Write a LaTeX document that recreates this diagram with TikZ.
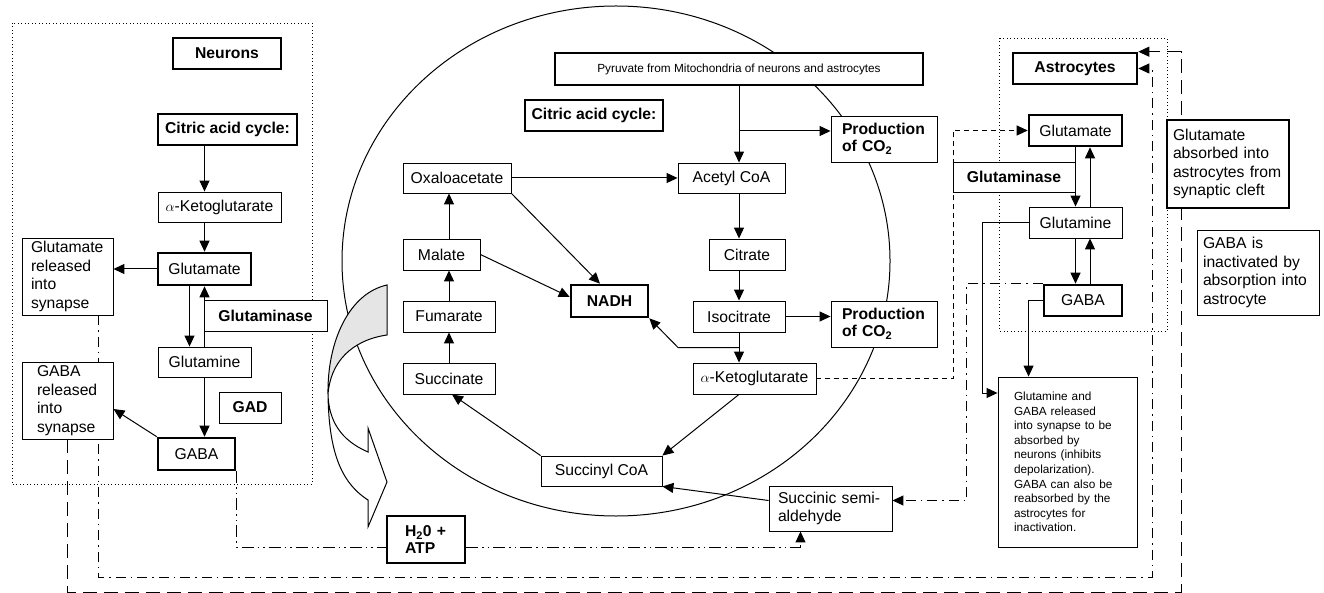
\documentclass[tikz,border=0pt]{standalone}
\usepackage{fontspec}
\setmainfont{Liberation Sans}
\usetikzlibrary{arrows.meta,calc}
\pgfdeclarelayer{background}
\pgfsetlayers{background,main}

\tikzset{
  box/.style={draw, fill=white, line width=0.9pt, inner sep=0pt, align=center,
    font=\fontsize{15.7}{18.5}\selectfont},
  heavy/.style={box, line width=2.6pt},
  lbl/.style={font=\fontsize{15.7}{17}\selectfont\bfseries},
  small/.style={font=\fontsize{11.8}{14.6}\selectfont},
  textbox/.style={align=left},
  link/.style={line width=1pt},
  tip/.style={-{Triangle[length=11pt,width=10pt]}},
  arr/.style={link, tip},
  shortdash/.style={link, dash pattern=on 5pt off 4pt},
  longdash/.style={link, dash pattern=on 14pt off 7pt},
  dashdot/.style={link, dash pattern=on 10pt off 5pt on 1.5pt off 5pt},
  dashdotdot/.style={link, dash pattern=on 12pt off 4pt on 1.5pt off 4pt on 1.5pt off 4pt},
  region/.style={line width=0.9pt, dash pattern=on 0.9pt off 2.6pt},
}

\begin{document}
\begin{tikzpicture}[x=1pt,y=-1pt]
		%%%%% START %%%%%
		\useasboundingbox (0,0) rectangle (1324,593);

		% neurons
		\node[heavy, lbl, minimum width=108, minimum height=31] (neurons) at (227,53.5) {Neurons};
		\node[heavy, lbl, minimum width=139, minimum height=31] (ncac) at (227.5,129.5) {Citric acid cycle:};
		\node[box, minimum width=123, minimum height=30] (nakg) at (219.5,207) {$\alpha$-Ketoglutarate};
		\node[heavy, minimum width=93, minimum height=32] (nglu) at (204.5,269) {Glutamate};
		\node[box, textbox, text width=73, inner xsep=9, minimum height=77] (nglurel) at (67.5,276.5) {Glutamate\\released\\into\\synapse};
		\node[box, lbl, minimum width=123, minimum height=31] (nglnase) at (265.5,315.5) {Glutaminase};
		\node[box, minimum width=93, minimum height=30] (ngln) at (204.5,362) {Glutamine};
		\node[box, lbl, minimum width=62, minimum height=31] (ngad) at (250,407.5) {GAD};
		\node[heavy, minimum width=77, minimum height=32] (ngaba) at (196.5,454) {GABA};
		\node[box, textbox, text width=61, inner xsep=15, minimum height=77] (ngabarel) at (67.5,400.5) {GABA\\released\\into\\synapse};

		% mitochondrion
		\node[heavy, small, minimum width=368, minimum height=32] (pyr) at (739,69) {Pyruvate from Mitochondria of neurons and astrocytes};
		\node[heavy, lbl, minimum width=138, minimum height=31] (mcac) at (594,115.5) {Citric acid cycle:};
		\node[box, lbl, textbox, text width=84, inner xsep=11, minimum height=46] (co2a) at (884,139) {Production\\of CO\textsubscript{2}};
		\node[box, minimum width=107, minimum height=30] (acetyl) at (731.5,178) {Acetyl CoA};
		\node[box, minimum width=108, minimum height=30] (oxal) at (457,178) {Oxaloacetate};
		\node[box, minimum width=76, minimum height=31] (citrate) at (747,254.5) {Citrate};
		\node[box, minimum width=77, minimum height=31] (malate) at (441.5,254.5) {Malate};
		\node[heavy, lbl, minimum width=77, minimum height=32] (nadh) at (609.5,301) {NADH};
		\node[box, minimum width=92, minimum height=31] (iso) at (739,316.5) {Isocitrate};
		\node[box, lbl, textbox, text width=84, inner xsep=11, minimum height=46] (co2b) at (884,324) {Production\\of CO\textsubscript{2}};
		\node[box, minimum width=92, minimum height=31] (fumarate) at (449,316.5) {Fumarate};
		\node[box, minimum width=92, minimum height=31] (succinate) at (449,378.5) {Succinate};
		\node[box, minimum width=123, minimum height=31] (mkg) at (754.5,378.5) {$\alpha$-Ketoglutarate};
		\node[box, minimum width=121, minimum height=30] (succoa) at (601.5,471) {Succinyl CoA};
		\node[box, textbox, text width=105, inner xsep=9, minimum height=45] (ssa) at (830.5,508.5) {Succinic semi-\\aldehyde};
		\node[heavy, lbl, textbox, text width=42, inner xsep=18, minimum height=47] (h2o) at (426,539.5) {H\textsubscript{2}0 +\\ATP};

		% astrocytes
		\node[heavy, lbl, minimum width=124, minimum height=31] (astro) at (1075,68.5) {Astrocytes};
		\node[heavy, minimum width=93, minimum height=31] (aglu) at (1075.5,130.5) {Glutamate};
		\node[box, lbl, minimum width=122, minimum height=30] (aglnase) at (1014,177) {Glutaminase};
		\node[box, minimum width=93, minimum height=31] (agln) at (1075.5,222.5) {Glutamine};
		\node[heavy, minimum width=78, minimum height=31] (agaba) at (1083,300.5) {GABA};
		\node[box, small, textbox, text width=107, inner xsep=16, minimum height=170] (release) at (1067.5,462) {Glutamine and\\GABA released\\into synapse to be\\absorbed by\\neurons (inhibits\\depolarization).\\GABA can also be\\reabsorbed by the\\astrocytes for\\inactivation.};
		\node[heavy, textbox, text width=110, inner xsep=6, minimum height=88] (absorbed) at (1228,164) {Glutamate\\absorbed into\\astrocytes from\\synaptic cleft};
		\node[box, textbox, text width=110, inner xsep=6, minimum height=85] (inact) at (1258,272.5) {GABA is\\inactivated by\\absorption into\\astrocyte};

		\begin{pgfonlayer}{background}
		\draw[region] (12,23) rectangle (312,484);
		\draw[region] (999,38) rectangle (1167,331);

		\draw[line width=1pt] (616,261) ellipse (274 and 255);

		% twisted arrow
		\filldraw[fill=gray!20, line width=1pt] (387,285) .. controls (350,293) and (327,340) .. (328,395)
			.. controls (330,362) and (352,340) .. (387,335) -- cycle;
		\filldraw[fill=white, line width=1pt] (328,395) .. controls (329,450) and (340,482) .. (368,500)
			-- (368,527) -- (387,482) -- (368,428) -- (368,452) .. controls (340,440) and (329,420) .. (328,395) -- cycle;

		% neuron links
		\draw[arr] (ncac.south -| nglu) -- (nakg.north -| nglu);
		\draw[arr] (nakg.south -| nglu) -- (nglu.north);
		\draw[arr] (nglu.west) -- (nglu.west -| nglurel.east);
		\draw[arr] ([xshift=-15]nglu.south) -- ([xshift=-15]ngln.north);
		\draw[arr] (ngln.north) -- (nglu.south);
		\draw[arr] (ngln.south) -- (ngln.south |- ngaba.north);
		\draw[arr] (ngaba.north west) -- ([yshift=-8.5]ngabarel.east);

		% citric acid cycle
		\coordinate (co2in) at ([yshift=8]co2a.west);
		\draw[arr] (pyr.south) -- (pyr.south |- acetyl.north);
		\draw[arr] (pyr.south |- co2in) -- (co2in);
		\draw[arr] (oxal.east) -- (acetyl.west);
		\draw[arr] (acetyl.south -| pyr) -- (citrate.north -| pyr);
		\draw[arr] (citrate.south -| pyr) -- (iso.north);
		\draw[arr] (iso.south) -- (iso.south |- mkg.north);
		\draw[arr] (iso.east) -- (iso.east -| co2b.west);
		\coordinate (nj) at ($(iso.south)!0.5!(iso.south |- mkg.north)$);
		\draw[arr] (nj) -- ++(-61,0) -- (nadh.south east);
		\draw[arr] (oxal.south east) -- ([xshift=-9.5]nadh.north);
		\draw[arr] (malate.east) -- ([yshift=4]nadh.west);
		\draw[arr] (mkg.south -| pyr) -- (succoa.north east);
		\draw[arr] (succoa.north west) -- ([xshift=3]succinate.south);
		\draw[arr] (succinate.north) -- (fumarate.south);
		\draw[arr] (fumarate.north) -- (fumarate.north |- malate.south);
		\draw[arr] (fumarate.north |- malate.north) -- (fumarate.north |- oxal.south);
		\draw[arr] ([yshift=8]ssa.west) -- (succoa.south east);

		% astrocyte links
		\draw[arr] (aglu.south) -- (agln.north);
		\draw[arr] ([xshift=14.5]agln.north) -- ([xshift=14.5]aglu.south);
		\draw[arr] (agln.south) -- (agln.south |- agaba.north);
		\draw[arr] ([xshift=7]agaba.north) -- ([xshift=14.5]agln.south);
		\draw[arr] (agln.west) -- ++(-46,0) |- ([yshift=69]release.west);
		\draw[arr] (agaba.west) -- (agaba.west -| agln.west) -- (agln.west |- release.north);

		% exchange between cells
		\draw[shortdash, tip] (mkg.east) -- ++(137,0) |- (aglu.west);
		\draw[dashdot, tip] (agaba.north west) -- ++(-76,0) |- ([yshift=8]ssa.east);
		\coordinate (hl) at ([yshift=-7.5]h2o.west);
		\coordinate (hr) at ([yshift=-7.5]h2o.east);
		\draw[dashdotdot] (ngaba.south east) |- (hl);
		\draw[dashdotdot, tip] (hr) -| ([xshift=-30]ssa.south);
		\coordinate (c1) at (1152,577);
		\coordinate (c2) at (1181,592);
		\draw[dashdot, tip] ([xshift=30.5]nglurel.south) |- (c1) |- (astro.east);
		\draw[longdash, tip] (ngabarel.south) |- (c2) |- (astro.north east);
		\end{pgfonlayer}

		%%%%% END %%%%%
\end{tikzpicture}
\end{document}
